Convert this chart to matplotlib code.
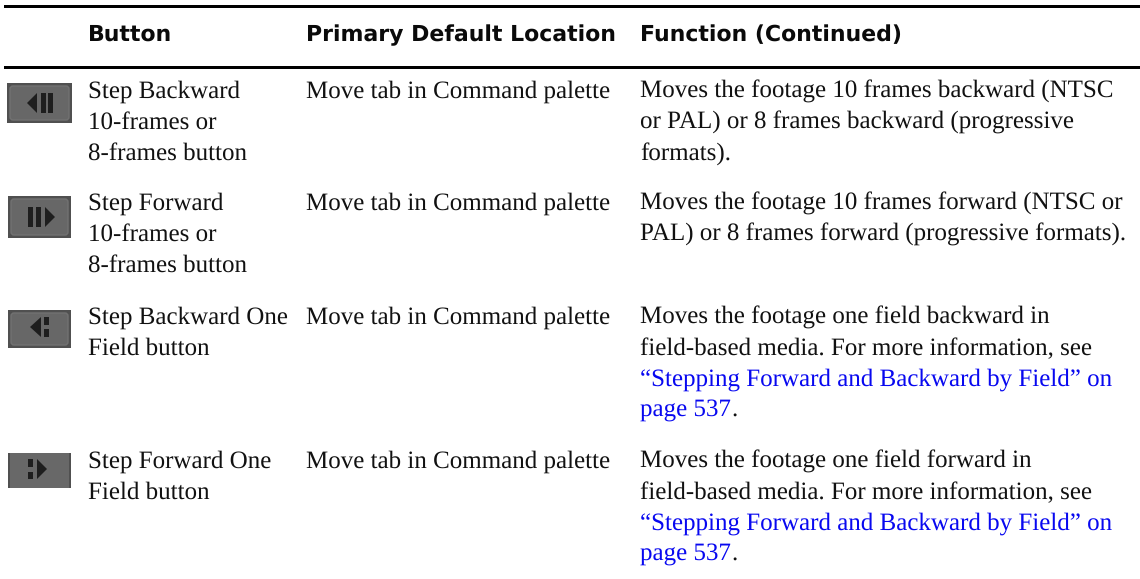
import matplotlib
matplotlib.use("Agg")
import matplotlib.pyplot as plt
from matplotlib.patches import Rectangle, Polygon, FancyBboxPatch

plt.rcParams["text.hinting"] = "no_hinting"
plt.rcParams["text.hinting_factor"] = 1

W, H = 1140, 579
HEADERS = ["Button", "Primary Default Location", "Function (Continued)"]
HEADER_X = [88, 306, 640]
BUTTON_NAMES = [
    ["Step Backward", "10-frames or", "8-frames button"],
    ["Step Forward", "10-frames or", "8-frames button"],
    ["Step Backward One", "Field button"],
    ["Step Forward One", "Field button"],
]
LOCATIONS = ["Move tab in Command palette"] * 4
FUNCTIONS = [
    [("Moves the footage 10 frames backward (NTSC", 0), ("or PAL) or 8 frames backward (progressive", 0), ("formats).", 0)],
    [("Moves the footage 10 frames forward (NTSC or", 0), ("PAL) or 8 frames forward (progressive formats).", 0)],
    [("Moves the footage one field backward in", 0), ("field-based media. For more information, see", 0), ("\u201cStepping Forward and Backward by Field\u201d on", 1), ("page 537", 1)],
    [("Moves the footage one field forward in", 0), ("field-based media. For more information, see", 0), ("\u201cStepping Forward and Backward by Field\u201d on", 1), ("page 537", 1)],
]
ROW_BASE = [98, 210, 324, 468]
LINE_H = 30.7

fig = plt.figure(figsize=(W / 100, H / 100), dpi=100)
ax = fig.add_axes([0, 0, 1, 1])
ax.set_xlim(0, W)
ax.set_ylim(H, 0)
ax.axis("off")

for y in (6.5, 67.5):
    ax.add_patch(Rectangle((4, y - 1.5), W - 4, 3, color="black", lw=0))

for x, s in zip(HEADER_X, HEADERS):
    ax.text(x, 41, s, family="DejaVu Sans", weight="bold", fontsize=16.1, va="baseline", color="#0a0a0a")

serif = dict(family="Liberation Serif", fontsize=18.2, va="baseline", color="#111111")
BLUE = "#0808f0"

for y0, names, loc, fn in zip(ROW_BASE, BUTTON_NAMES, LOCATIONS, FUNCTIONS):
    for i, s in enumerate(names):
        ax.text(88, y0 + i * LINE_H, s, **serif)
    ax.text(306, y0, loc, **serif)
    for i, (s, link) in enumerate(fn):
        t = dict(serif)
        if link:
            t["color"] = BLUE
        tx = ax.text(640, y0 + i * LINE_H, s, **t)
        if s.startswith("page"):
            fig.canvas.draw()
            bb = tx.get_window_extent()
            ax.text(bb.x1, y0 + i * LINE_H, ".", **serif)

D = "#1e1e1e"


def button(x0, x1, y0, y1, tri, rects, rounded=True):
    ax.add_patch(Rectangle((x0, y0), x1 - x0, y1 - y0, color="#505050", lw=0))
    if rounded:
        ax.add_patch(FancyBboxPatch((x0 + 3, y0 + 3), x1 - x0 - 6, y1 - y0 - 6,
                                    boxstyle="round,pad=0,rounding_size=3",
                                    fc="#676767", ec="#727272", lw=1))
    else:
        ax.add_patch(Rectangle((x0 + 2, y0), x1 - x0 - 4, y1 - y0, color="#686868", lw=0))
    ax.add_patch(Polygon(tri, color=D, lw=0))
    for (rx0, ry0, rx1, ry1) in rects:
        ax.add_patch(Rectangle((rx0, ry0), rx1 - rx0, ry1 - ry0, color=D, lw=0))


button(7, 72, 83, 123, [(27, 103), (37, 93), (37, 113)], [(41, 93, 45.5, 113), (48, 93, 53, 113)])
button(8, 71, 196, 238, [(55, 217), (45, 207), (45, 227)], [(28, 207, 32.5, 227), (36, 207, 40.5, 227)])
button(8, 71, 310, 348, [(30, 327), (41, 317), (41, 337)], [(44, 317, 49, 325), (44, 329, 49, 337)])
button(8, 71, 453, 488, [(47, 469), (37, 459), (37, 479)], [(28, 459, 33, 467), (28, 472, 33, 479)], rounded=False)

fig.savefig("out.png", dpi=100)
